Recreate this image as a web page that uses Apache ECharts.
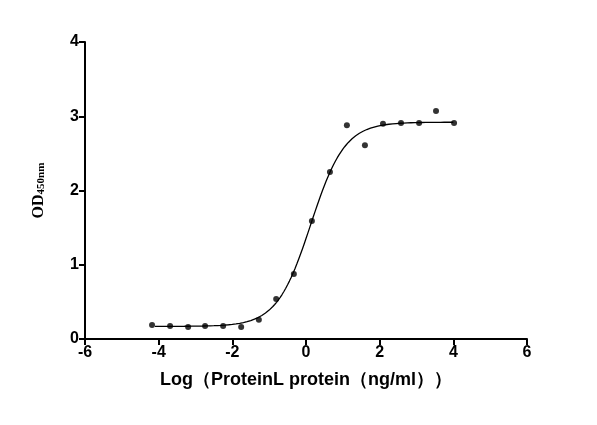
<!DOCTYPE html>
<html><head><meta charset="utf-8">
<script src="https://cdn.jsdelivr.net/npm/echarts@6/dist/echarts.min.js"></script>
<style>html,body{margin:0;background:#fff}#c{width:597px;height:425px}</style>
</head><body><div id="c"></div>
<script>
const xLog = [-4.18,-3.69,-3.2,-2.74,-2.25,-1.76,-1.28,-0.81,-0.33,0.16,0.65,1.11,1.6,2.09,2.58,3.07,3.53,4.02];
const od = [0.19,0.175,0.16,0.175,0.175,0.16,0.26,0.54,0.875,1.59,2.25,2.88,2.61,2.90,2.91,2.91,3.07,2.91];
const fitBottom = 0.17, fitTop = 2.92, fitEC50 = 0.13, fitHill = 0.94;
const xTicks = [-6,-4,-2,0,2,4,6];
const curve = [];
for (let x = -4.1; x <= 4.02; x += 0.05) curve.push([x, fitBottom + (fitTop - fitBottom) / (1 + Math.pow(10, (fitEC50 - x) * fitHill))]);
const font = 'Arial, "Liberation Sans", sans-serif';
echarts.init(document.getElementById('c')).setOption({
  animation:false,
  grid:{left:85,right:70,top:42,bottom:86},
  xAxis:{type:'value',min:-6,max:6,interval:2,
    axisLine:{onZero:false,lineStyle:{color:'#000',width:2}},axisTick:{lineStyle:{color:'#000',width:2},length:6},
    splitLine:{show:false},
    axisLabel:{color:'#000',fontSize:16,fontWeight:'bold',fontFamily:font,margin:6},
    name:'Log（ProteinL protein（ng/ml））',nameLocation:'middle',nameGap:32,
    nameTextStyle:{color:'#000',fontSize:18,fontWeight:'bold',fontFamily:font}},
  yAxis:{type:'value',min:0,max:4,interval:1,
    axisLine:{show:true,onZero:false,lineStyle:{color:'#000',width:2}},axisTick:{show:true,lineStyle:{color:'#000',width:2},length:6},
    splitLine:{show:false},
    axisLabel:{color:'#000',fontSize:16,fontWeight:'bold',fontFamily:font,margin:6},
    name:'{a|OD}{b|450nm}',nameLocation:'middle',nameGap:38,nameRotate:90,
    nameTextStyle:{rich:{a:{fontSize:16,fontWeight:'bold',fontFamily:'"Liberation Serif", serif',color:'#000'},
      b:{fontSize:11,fontWeight:'bold',fontFamily:'"Liberation Serif", serif',color:'#000',verticalAlign:'bottom',padding:[6,0,0,0]}}}},
  series:[
    {type:'line',data:curve,showSymbol:false,smooth:false,lineStyle:{color:'#000',width:1.3}},
    {type:'scatter',data:xLog.map((x,i)=>[x,od[i]]),symbolSize:6,itemStyle:{color:'#000'}}
  ]
});
</script></body></html>
